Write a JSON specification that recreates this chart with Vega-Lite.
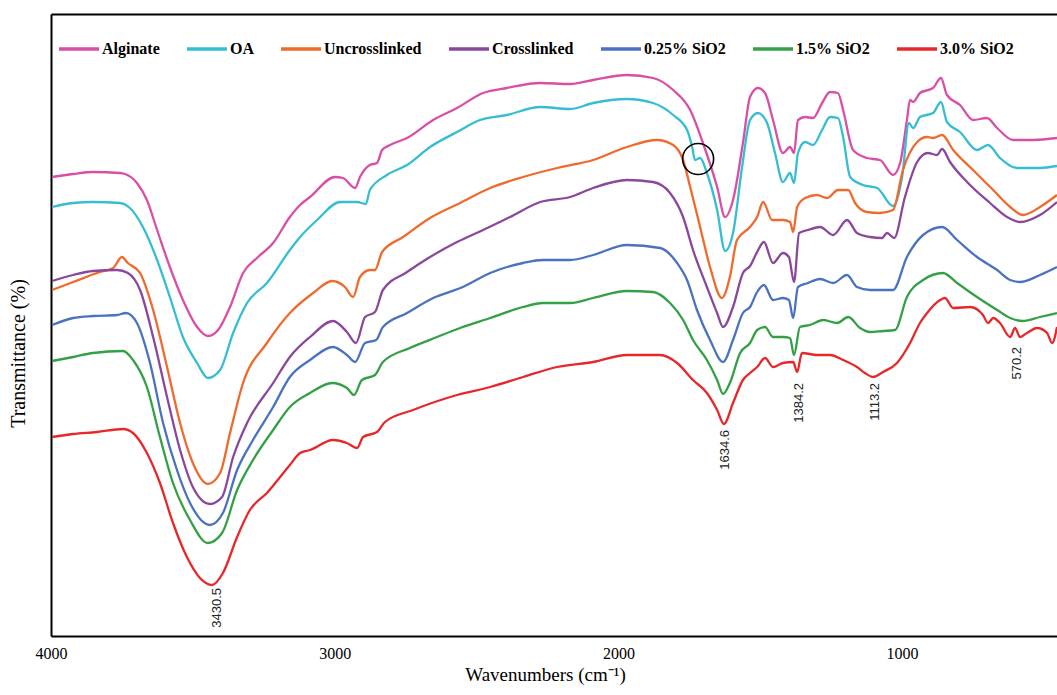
{
"$schema": "https://vega.github.io/schema/vega-lite/v6.json",
"width": 1006, "height": 622,
"padding": {"left": 51, "top": 14, "right": 0, "bottom": 59},
"autosize": {"type": "none"},
"background": "white",
"config": {"view": {"stroke": null}, "font": "Liberation Serif"},
"datasets": {
"spectra": [
{"s":"Alginate","w":3996,"t":459},{"s":"Alginate","w":3922,"t":462},{"s":"Alginate","w":3852,"t":464},{"s":"Alginate","w":3757,"t":463},{"s":"Alginate","w":3739,"t":462},{"s":"Alginate","w":3697,"t":453},{"s":"Alginate","w":3662,"t":436},{"s":"Alginate","w":3626,"t":406},{"s":"Alginate","w":3581,"t":369},{"s":"Alginate","w":3535,"t":336},{"s":"Alginate","w":3485,"t":309},{"s":"Alginate","w":3447,"t":300},{"s":"Alginate","w":3411,"t":306},{"s":"Alginate","w":3369,"t":329},{"s":"Alginate","w":3323,"t":363},{"s":"Alginate","w":3274,"t":378},{"s":"Alginate","w":3217,"t":393},{"s":"Alginate","w":3158,"t":419},{"s":"Alginate","w":3122,"t":431},{"s":"Alginate","w":3087,"t":439},{"s":"Alginate","w":2999,"t":459},{"s":"Alginate","w":2971,"t":458},{"s":"Alginate","w":2928,"t":448},{"s":"Alginate","w":2911,"t":459},{"s":"Alginate","w":2876,"t":471},{"s":"Alginate","w":2851,"t":473},{"s":"Alginate","w":2833,"t":486},{"s":"Alginate","w":2805,"t":491},{"s":"Alginate","w":2745,"t":498},{"s":"Alginate","w":2653,"t":516},{"s":"Alginate","w":2569,"t":528},{"s":"Alginate","w":2477,"t":543},{"s":"Alginate","w":2393,"t":548},{"s":"Alginate","w":2276,"t":553},{"s":"Alginate","w":2170,"t":552},{"s":"Alginate","w":2089,"t":556},{"s":"Alginate","w":1970,"t":561},{"s":"Alginate","w":1878,"t":558},{"s":"Alginate","w":1807,"t":546},{"s":"Alginate","w":1747,"t":526},{"s":"Alginate","w":1702,"t":493},{"s":"Alginate","w":1652,"t":449},{"s":"Alginate","w":1624,"t":419},{"s":"Alginate","w":1596,"t":436},{"s":"Alginate","w":1561,"t":493},{"s":"Alginate","w":1536,"t":539},{"s":"Alginate","w":1508,"t":548},{"s":"Alginate","w":1483,"t":543},{"s":"Alginate","w":1455,"t":516},{"s":"Alginate","w":1420,"t":483},{"s":"Alginate","w":1395,"t":489},{"s":"Alginate","w":1381,"t":483},{"s":"Alginate","w":1367,"t":516},{"s":"Alginate","w":1342,"t":519},{"s":"Alginate","w":1314,"t":518},{"s":"Alginate","w":1282,"t":533},{"s":"Alginate","w":1254,"t":544},{"s":"Alginate","w":1226,"t":543},{"s":"Alginate","w":1208,"t":526},{"s":"Alginate","w":1173,"t":486},{"s":"Alginate","w":1124,"t":478},{"s":"Alginate","w":1078,"t":476},{"s":"Alginate","w":1032,"t":461},{"s":"Alginate","w":1007,"t":473},{"s":"Alginate","w":983,"t":516},{"s":"Alginate","w":972,"t":536},{"s":"Alginate","w":961,"t":534},{"s":"Alginate","w":937,"t":543},{"s":"Alginate","w":891,"t":548},{"s":"Alginate","w":863,"t":558},{"s":"Alginate","w":842,"t":541},{"s":"Alginate","w":796,"t":531},{"s":"Alginate","w":750,"t":516},{"s":"Alginate","w":701,"t":518},{"s":"Alginate","w":665,"t":508},{"s":"Alginate","w":609,"t":496},{"s":"Alginate","w":538,"t":496},{"s":"Alginate","w":454,"t":498},
{"s":"OA","w":3996,"t":429},{"s":"OA","w":3922,"t":433},{"s":"OA","w":3852,"t":434},{"s":"OA","w":3757,"t":433},{"s":"OA","w":3722,"t":428},{"s":"OA","w":3676,"t":409},{"s":"OA","w":3626,"t":376},{"s":"OA","w":3581,"t":339},{"s":"OA","w":3535,"t":299},{"s":"OA","w":3485,"t":273},{"s":"OA","w":3447,"t":258},{"s":"OA","w":3404,"t":266},{"s":"OA","w":3358,"t":303},{"s":"OA","w":3309,"t":333},{"s":"OA","w":3239,"t":353},{"s":"OA","w":3158,"t":386},{"s":"OA","w":3122,"t":399},{"s":"OA","w":3062,"t":416},{"s":"OA","w":2981,"t":434},{"s":"OA","w":2921,"t":434},{"s":"OA","w":2890,"t":432},{"s":"OA","w":2876,"t":446},{"s":"OA","w":2816,"t":461},{"s":"OA","w":2745,"t":471},{"s":"OA","w":2664,"t":489},{"s":"OA","w":2569,"t":504},{"s":"OA","w":2488,"t":516},{"s":"OA","w":2393,"t":521},{"s":"OA","w":2276,"t":529},{"s":"OA","w":2170,"t":527},{"s":"OA","w":2089,"t":533},{"s":"OA","w":1970,"t":537},{"s":"OA","w":1878,"t":533},{"s":"OA","w":1807,"t":521},{"s":"OA","w":1758,"t":506},{"s":"OA","w":1740,"t":489},{"s":"OA","w":1730,"t":476},{"s":"OA","w":1712,"t":478},{"s":"OA","w":1688,"t":463},{"s":"OA","w":1652,"t":426},{"s":"OA","w":1624,"t":385},{"s":"OA","w":1596,"t":403},{"s":"OA","w":1564,"t":469},{"s":"OA","w":1536,"t":516},{"s":"OA","w":1508,"t":523},{"s":"OA","w":1476,"t":513},{"s":"OA","w":1448,"t":483},{"s":"OA","w":1420,"t":454},{"s":"OA","w":1395,"t":463},{"s":"OA","w":1381,"t":453},{"s":"OA","w":1367,"t":483},{"s":"OA","w":1342,"t":494},{"s":"OA","w":1314,"t":491},{"s":"OA","w":1282,"t":506},{"s":"OA","w":1254,"t":519},{"s":"OA","w":1226,"t":518},{"s":"OA","w":1208,"t":499},{"s":"OA","w":1183,"t":459},{"s":"OA","w":1138,"t":451},{"s":"OA","w":1088,"t":448},{"s":"OA","w":1032,"t":430},{"s":"OA","w":1000,"t":459},{"s":"OA","w":976,"t":513},{"s":"OA","w":961,"t":508},{"s":"OA","w":937,"t":519},{"s":"OA","w":891,"t":523},{"s":"OA","w":863,"t":534},{"s":"OA","w":842,"t":514},{"s":"OA","w":796,"t":504},{"s":"OA","w":736,"t":486},{"s":"OA","w":697,"t":491},{"s":"OA","w":655,"t":478},{"s":"OA","w":595,"t":468},{"s":"OA","w":514,"t":468},{"s":"OA","w":454,"t":470},
{"s":"Uncrosslinked","w":3996,"t":346},{"s":"Uncrosslinked","w":3922,"t":354},{"s":"Uncrosslinked","w":3827,"t":364},{"s":"Uncrosslinked","w":3781,"t":368},{"s":"Uncrosslinked","w":3750,"t":379},{"s":"Uncrosslinked","w":3729,"t":373},{"s":"Uncrosslinked","w":3686,"t":363},{"s":"Uncrosslinked","w":3640,"t":326},{"s":"Uncrosslinked","w":3591,"t":269},{"s":"Uncrosslinked","w":3545,"t":213},{"s":"Uncrosslinked","w":3500,"t":173},{"s":"Uncrosslinked","w":3447,"t":152},{"s":"Uncrosslinked","w":3404,"t":163},{"s":"Uncrosslinked","w":3369,"t":203},{"s":"Uncrosslinked","w":3323,"t":253},{"s":"Uncrosslinked","w":3239,"t":293},{"s":"Uncrosslinked","w":3158,"t":323},{"s":"Uncrosslinked","w":3076,"t":343},{"s":"Uncrosslinked","w":3009,"t":355},{"s":"Uncrosslinked","w":2964,"t":349},{"s":"Uncrosslinked","w":2935,"t":339},{"s":"Uncrosslinked","w":2911,"t":359},{"s":"Uncrosslinked","w":2876,"t":366},{"s":"Uncrosslinked","w":2858,"t":366},{"s":"Uncrosslinked","w":2833,"t":384},{"s":"Uncrosslinked","w":2759,"t":399},{"s":"Uncrosslinked","w":2664,"t":418},{"s":"Uncrosslinked","w":2558,"t":433},{"s":"Uncrosslinked","w":2452,"t":448},{"s":"Uncrosslinked","w":2336,"t":459},{"s":"Uncrosslinked","w":2216,"t":468},{"s":"Uncrosslinked","w":2089,"t":476},{"s":"Uncrosslinked","w":1970,"t":489},{"s":"Uncrosslinked","w":1864,"t":496},{"s":"Uncrosslinked","w":1807,"t":491},{"s":"Uncrosslinked","w":1772,"t":476},{"s":"Uncrosslinked","w":1747,"t":449},{"s":"Uncrosslinked","w":1712,"t":409},{"s":"Uncrosslinked","w":1677,"t":369},{"s":"Uncrosslinked","w":1635,"t":338},{"s":"Uncrosslinked","w":1607,"t":359},{"s":"Uncrosslinked","w":1582,"t":396},{"s":"Uncrosslinked","w":1536,"t":409},{"s":"Uncrosslinked","w":1511,"t":419},{"s":"Uncrosslinked","w":1490,"t":434},{"s":"Uncrosslinked","w":1458,"t":416},{"s":"Uncrosslinked","w":1420,"t":416},{"s":"Uncrosslinked","w":1395,"t":414},{"s":"Uncrosslinked","w":1384,"t":404},{"s":"Uncrosslinked","w":1370,"t":429},{"s":"Uncrosslinked","w":1342,"t":438},{"s":"Uncrosslinked","w":1300,"t":441},{"s":"Uncrosslinked","w":1264,"t":438},{"s":"Uncrosslinked","w":1226,"t":446},{"s":"Uncrosslinked","w":1190,"t":446},{"s":"Uncrosslinked","w":1166,"t":433},{"s":"Uncrosslinked","w":1124,"t":424},{"s":"Uncrosslinked","w":1078,"t":423},{"s":"Uncrosslinked","w":1032,"t":426},{"s":"Uncrosslinked","w":997,"t":466},{"s":"Uncrosslinked","w":947,"t":494},{"s":"Uncrosslinked","w":912,"t":499},{"s":"Uncrosslinked","w":891,"t":498},{"s":"Uncrosslinked","w":859,"t":501},{"s":"Uncrosslinked","w":820,"t":486},{"s":"Uncrosslinked","w":750,"t":466},{"s":"Uncrosslinked","w":679,"t":446},{"s":"Uncrosslinked","w":619,"t":429},{"s":"Uncrosslinked","w":574,"t":421},{"s":"Uncrosslinked","w":514,"t":429},{"s":"Uncrosslinked","w":454,"t":441},
{"s":"Crosslinked","w":3996,"t":355},{"s":"Crosslinked","w":3922,"t":361},{"s":"Crosslinked","w":3852,"t":365},{"s":"Crosslinked","w":3767,"t":366},{"s":"Crosslinked","w":3729,"t":363},{"s":"Crosslinked","w":3686,"t":346},{"s":"Crosslinked","w":3640,"t":299},{"s":"Crosslinked","w":3591,"t":239},{"s":"Crosslinked","w":3545,"t":186},{"s":"Crosslinked","w":3500,"t":149},{"s":"Crosslinked","w":3440,"t":132},{"s":"Crosslinked","w":3397,"t":139},{"s":"Crosslinked","w":3358,"t":179},{"s":"Crosslinked","w":3309,"t":213},{"s":"Crosslinked","w":3217,"t":253},{"s":"Crosslinked","w":3158,"t":279},{"s":"Crosslinked","w":3087,"t":299},{"s":"Crosslinked","w":3006,"t":315},{"s":"Crosslinked","w":2957,"t":304},{"s":"Crosslinked","w":2925,"t":293},{"s":"Crosslinked","w":2893,"t":319},{"s":"Crosslinked","w":2858,"t":324},{"s":"Crosslinked","w":2830,"t":346},{"s":"Crosslinked","w":2745,"t":364},{"s":"Crosslinked","w":2664,"t":379},{"s":"Crosslinked","w":2569,"t":394},{"s":"Crosslinked","w":2477,"t":406},{"s":"Crosslinked","w":2382,"t":419},{"s":"Crosslinked","w":2276,"t":434},{"s":"Crosslinked","w":2170,"t":439},{"s":"Crosslinked","w":2089,"t":448},{"s":"Crosslinked","w":1970,"t":456},{"s":"Crosslinked","w":1878,"t":454},{"s":"Crosslinked","w":1818,"t":443},{"s":"Crosslinked","w":1772,"t":419},{"s":"Crosslinked","w":1737,"t":386},{"s":"Crosslinked","w":1688,"t":349},{"s":"Crosslinked","w":1652,"t":323},{"s":"Crosslinked","w":1631,"t":309},{"s":"Crosslinked","w":1596,"t":329},{"s":"Crosslinked","w":1561,"t":363},{"s":"Crosslinked","w":1536,"t":370},{"s":"Crosslinked","w":1511,"t":384},{"s":"Crosslinked","w":1487,"t":394},{"s":"Crosslinked","w":1455,"t":373},{"s":"Crosslinked","w":1420,"t":383},{"s":"Crosslinked","w":1399,"t":379},{"s":"Crosslinked","w":1381,"t":354},{"s":"Crosslinked","w":1363,"t":403},{"s":"Crosslinked","w":1332,"t":406},{"s":"Crosslinked","w":1289,"t":409},{"s":"Crosslinked","w":1243,"t":401},{"s":"Crosslinked","w":1194,"t":416},{"s":"Crosslinked","w":1159,"t":403},{"s":"Crosslinked","w":1113,"t":399},{"s":"Crosslinked","w":1071,"t":398},{"s":"Crosslinked","w":1053,"t":403},{"s":"Crosslinked","w":1028,"t":398},{"s":"Crosslinked","w":990,"t":439},{"s":"Crosslinked","w":947,"t":474},{"s":"Crosslinked","w":909,"t":483},{"s":"Crosslinked","w":877,"t":481},{"s":"Crosslinked","w":859,"t":487},{"s":"Crosslinked","w":831,"t":474},{"s":"Crosslinked","w":771,"t":454},{"s":"Crosslinked","w":690,"t":433},{"s":"Crosslinked","w":630,"t":419},{"s":"Crosslinked","w":584,"t":414},{"s":"Crosslinked","w":514,"t":421},{"s":"Crosslinked","w":454,"t":434},
{"s":"0.25% SiO2","w":3996,"t":311},{"s":"0.25% SiO2","w":3922,"t":318},{"s":"0.25% SiO2","w":3852,"t":320},{"s":"0.25% SiO2","w":3767,"t":321},{"s":"0.25% SiO2","w":3736,"t":323},{"s":"0.25% SiO2","w":3697,"t":313},{"s":"0.25% SiO2","w":3651,"t":273},{"s":"0.25% SiO2","w":3605,"t":213},{"s":"0.25% SiO2","w":3556,"t":166},{"s":"0.25% SiO2","w":3510,"t":133},{"s":"0.25% SiO2","w":3440,"t":111},{"s":"0.25% SiO2","w":3394,"t":123},{"s":"0.25% SiO2","w":3344,"t":166},{"s":"0.25% SiO2","w":3288,"t":196},{"s":"0.25% SiO2","w":3217,"t":229},{"s":"0.25% SiO2","w":3158,"t":259},{"s":"0.25% SiO2","w":3087,"t":276},{"s":"0.25% SiO2","w":3006,"t":289},{"s":"0.25% SiO2","w":2957,"t":281},{"s":"0.25% SiO2","w":2928,"t":274},{"s":"0.25% SiO2","w":2893,"t":293},{"s":"0.25% SiO2","w":2854,"t":296},{"s":"0.25% SiO2","w":2830,"t":309},{"s":"0.25% SiO2","w":2745,"t":323},{"s":"0.25% SiO2","w":2653,"t":338},{"s":"0.25% SiO2","w":2548,"t":349},{"s":"0.25% SiO2","w":2452,"t":363},{"s":"0.25% SiO2","w":2336,"t":373},{"s":"0.25% SiO2","w":2266,"t":376},{"s":"0.25% SiO2","w":2170,"t":376},{"s":"0.25% SiO2","w":2089,"t":381},{"s":"0.25% SiO2","w":1970,"t":391},{"s":"0.25% SiO2","w":1853,"t":388},{"s":"0.25% SiO2","w":1793,"t":373},{"s":"0.25% SiO2","w":1758,"t":356},{"s":"0.25% SiO2","w":1723,"t":326},{"s":"0.25% SiO2","w":1677,"t":296},{"s":"0.25% SiO2","w":1631,"t":274},{"s":"0.25% SiO2","w":1596,"t":296},{"s":"0.25% SiO2","w":1561,"t":323},{"s":"0.25% SiO2","w":1536,"t":329},{"s":"0.25% SiO2","w":1511,"t":344},{"s":"0.25% SiO2","w":1487,"t":351},{"s":"0.25% SiO2","w":1455,"t":336},{"s":"0.25% SiO2","w":1420,"t":338},{"s":"0.25% SiO2","w":1399,"t":336},{"s":"0.25% SiO2","w":1384,"t":318},{"s":"0.25% SiO2","w":1367,"t":349},{"s":"0.25% SiO2","w":1332,"t":353},{"s":"0.25% SiO2","w":1289,"t":357},{"s":"0.25% SiO2","w":1243,"t":353},{"s":"0.25% SiO2","w":1194,"t":361},{"s":"0.25% SiO2","w":1159,"t":349},{"s":"0.25% SiO2","w":1113,"t":346},{"s":"0.25% SiO2","w":1067,"t":346},{"s":"0.25% SiO2","w":1032,"t":346},{"s":"0.25% SiO2","w":983,"t":379},{"s":"0.25% SiO2","w":926,"t":401},{"s":"0.25% SiO2","w":859,"t":409},{"s":"0.25% SiO2","w":806,"t":396},{"s":"0.25% SiO2","w":736,"t":379},{"s":"0.25% SiO2","w":665,"t":366},{"s":"0.25% SiO2","w":619,"t":356},{"s":"0.25% SiO2","w":584,"t":354},{"s":"0.25% SiO2","w":514,"t":361},{"s":"0.25% SiO2","w":454,"t":369},
{"s":"1.5% SiO2","w":3996,"t":275},{"s":"1.5% SiO2","w":3922,"t":279},{"s":"1.5% SiO2","w":3852,"t":283},{"s":"1.5% SiO2","w":3746,"t":285},{"s":"1.5% SiO2","w":3711,"t":276},{"s":"1.5% SiO2","w":3662,"t":249},{"s":"1.5% SiO2","w":3616,"t":199},{"s":"1.5% SiO2","w":3570,"t":153},{"s":"1.5% SiO2","w":3510,"t":116},{"s":"1.5% SiO2","w":3447,"t":93},{"s":"1.5% SiO2","w":3397,"t":103},{"s":"1.5% SiO2","w":3344,"t":146},{"s":"1.5% SiO2","w":3288,"t":176},{"s":"1.5% SiO2","w":3217,"t":206},{"s":"1.5% SiO2","w":3158,"t":229},{"s":"1.5% SiO2","w":3087,"t":243},{"s":"1.5% SiO2","w":3009,"t":253},{"s":"1.5% SiO2","w":2957,"t":248},{"s":"1.5% SiO2","w":2932,"t":241},{"s":"1.5% SiO2","w":2904,"t":256},{"s":"1.5% SiO2","w":2858,"t":261},{"s":"1.5% SiO2","w":2830,"t":274},{"s":"1.5% SiO2","w":2735,"t":288},{"s":"1.5% SiO2","w":2639,"t":299},{"s":"1.5% SiO2","w":2558,"t":308},{"s":"1.5% SiO2","w":2452,"t":318},{"s":"1.5% SiO2","w":2336,"t":329},{"s":"1.5% SiO2","w":2266,"t":333},{"s":"1.5% SiO2","w":2170,"t":333},{"s":"1.5% SiO2","w":2089,"t":338},{"s":"1.5% SiO2","w":1970,"t":345},{"s":"1.5% SiO2","w":1878,"t":344},{"s":"1.5% SiO2","w":1818,"t":333},{"s":"1.5% SiO2","w":1772,"t":316},{"s":"1.5% SiO2","w":1737,"t":296},{"s":"1.5% SiO2","w":1688,"t":276},{"s":"1.5% SiO2","w":1652,"t":256},{"s":"1.5% SiO2","w":1631,"t":242},{"s":"1.5% SiO2","w":1607,"t":253},{"s":"1.5% SiO2","w":1571,"t":283},{"s":"1.5% SiO2","w":1536,"t":293},{"s":"1.5% SiO2","w":1511,"t":306},{"s":"1.5% SiO2","w":1483,"t":309},{"s":"1.5% SiO2","w":1455,"t":299},{"s":"1.5% SiO2","w":1420,"t":299},{"s":"1.5% SiO2","w":1395,"t":298},{"s":"1.5% SiO2","w":1381,"t":281},{"s":"1.5% SiO2","w":1360,"t":309},{"s":"1.5% SiO2","w":1325,"t":311},{"s":"1.5% SiO2","w":1278,"t":316},{"s":"1.5% SiO2","w":1229,"t":313},{"s":"1.5% SiO2","w":1190,"t":319},{"s":"1.5% SiO2","w":1148,"t":308},{"s":"1.5% SiO2","w":1113,"t":304},{"s":"1.5% SiO2","w":1067,"t":305},{"s":"1.5% SiO2","w":1025,"t":306},{"s":"1.5% SiO2","w":983,"t":339},{"s":"1.5% SiO2","w":926,"t":356},{"s":"1.5% SiO2","w":856,"t":363},{"s":"1.5% SiO2","w":806,"t":353},{"s":"1.5% SiO2","w":736,"t":339},{"s":"1.5% SiO2","w":665,"t":326},{"s":"1.5% SiO2","w":619,"t":318},{"s":"1.5% SiO2","w":574,"t":315},{"s":"1.5% SiO2","w":514,"t":319},{"s":"1.5% SiO2","w":454,"t":323},
{"s":"3.0% SiO2","w":3996,"t":199},{"s":"3.0% SiO2","w":3922,"t":202},{"s":"3.0% SiO2","w":3838,"t":204},{"s":"3.0% SiO2","w":3746,"t":207},{"s":"3.0% SiO2","w":3711,"t":203},{"s":"3.0% SiO2","w":3662,"t":183},{"s":"3.0% SiO2","w":3616,"t":153},{"s":"3.0% SiO2","w":3570,"t":113},{"s":"3.0% SiO2","w":3521,"t":79},{"s":"3.0% SiO2","w":3475,"t":58},{"s":"3.0% SiO2","w":3432,"t":51},{"s":"3.0% SiO2","w":3394,"t":63},{"s":"3.0% SiO2","w":3344,"t":99},{"s":"3.0% SiO2","w":3299,"t":126},{"s":"3.0% SiO2","w":3239,"t":143},{"s":"3.0% SiO2","w":3158,"t":171},{"s":"3.0% SiO2","w":3122,"t":183},{"s":"3.0% SiO2","w":3087,"t":186},{"s":"3.0% SiO2","w":3006,"t":196},{"s":"3.0% SiO2","w":2957,"t":193},{"s":"3.0% SiO2","w":2921,"t":188},{"s":"3.0% SiO2","w":2900,"t":199},{"s":"3.0% SiO2","w":2851,"t":204},{"s":"3.0% SiO2","w":2823,"t":214},{"s":"3.0% SiO2","w":2724,"t":226},{"s":"3.0% SiO2","w":2569,"t":241},{"s":"3.0% SiO2","w":2452,"t":249},{"s":"3.0% SiO2","w":2336,"t":259},{"s":"3.0% SiO2","w":2216,"t":269},{"s":"3.0% SiO2","w":2089,"t":274},{"s":"3.0% SiO2","w":1970,"t":281},{"s":"3.0% SiO2","w":1853,"t":281},{"s":"3.0% SiO2","w":1793,"t":273},{"s":"3.0% SiO2","w":1737,"t":256},{"s":"3.0% SiO2","w":1688,"t":243},{"s":"3.0% SiO2","w":1652,"t":226},{"s":"3.0% SiO2","w":1628,"t":212},{"s":"3.0% SiO2","w":1596,"t":233},{"s":"3.0% SiO2","w":1561,"t":256},{"s":"3.0% SiO2","w":1536,"t":263},{"s":"3.0% SiO2","w":1511,"t":269},{"s":"3.0% SiO2","w":1483,"t":278},{"s":"3.0% SiO2","w":1455,"t":269},{"s":"3.0% SiO2","w":1420,"t":273},{"s":"3.0% SiO2","w":1384,"t":274},{"s":"3.0% SiO2","w":1370,"t":264},{"s":"3.0% SiO2","w":1353,"t":283},{"s":"3.0% SiO2","w":1300,"t":281},{"s":"3.0% SiO2","w":1254,"t":281},{"s":"3.0% SiO2","w":1208,"t":276},{"s":"3.0% SiO2","w":1159,"t":269},{"s":"3.0% SiO2","w":1131,"t":263},{"s":"3.0% SiO2","w":1102,"t":259},{"s":"3.0% SiO2","w":1067,"t":264},{"s":"3.0% SiO2","w":1018,"t":273},{"s":"3.0% SiO2","w":972,"t":293},{"s":"3.0% SiO2","w":937,"t":313},{"s":"3.0% SiO2","w":912,"t":323},{"s":"3.0% SiO2","w":866,"t":336},{"s":"3.0% SiO2","w":849,"t":338},{"s":"3.0% SiO2","w":820,"t":328},{"s":"3.0% SiO2","w":760,"t":329},{"s":"3.0% SiO2","w":715,"t":321},{"s":"3.0% SiO2","w":697,"t":313},{"s":"3.0% SiO2","w":679,"t":318},{"s":"3.0% SiO2","w":655,"t":313},{"s":"3.0% SiO2","w":619,"t":299},{"s":"3.0% SiO2","w":602,"t":308},{"s":"3.0% SiO2","w":584,"t":299},{"s":"3.0% SiO2","w":560,"t":303},{"s":"3.0% SiO2","w":524,"t":308},{"s":"3.0% SiO2","w":489,"t":303},{"s":"3.0% SiO2","w":471,"t":293},{"s":"3.0% SiO2","w":454,"t":309}
],
"labels": [
{"w":3415,"t":48,"label":"3430.5"},
{"w":1624,"t":206,"label":"1634.6"},
{"w":1363,"t":253,"label":"1384.2"},
{"w":1095,"t":253,"label":"1113.2"},
{"w":595,"t":289,"label":"570.2"}
],
"circles": [
{"w":1719,"t":477}
]
},
"layer": [
{
"data": {"name": "spectra"},
"mark": {"type": "line", "strokeWidth": 2.3, "clip": true, "interpolate": "monotone"},
"encoding": {
"x": {"field": "w", "type": "quantitative",
"scale": {"domain": [4000, 454], "nice": false, "zero": false},
"axis": {"values": [4000, 3000, 2000, 1000], "format": "d", "title": "Wavenumbers (cm⁻¹)", "grid": false, "ticks": false,
"domainColor": "black", "domainWidth": 2, "labelFont": "Liberation Serif", "labelFontSize": 16, "labelColor": "black",
"labelPadding": 9, "labelFlush": false, "labelOverlap": false,
"titleFont": "Liberation Serif", "titleFontSize": 19, "titleFontWeight": "normal", "titleColor": "black",
"titleX": 494, "titleY": 44, "titleBaseline": "alphabetic", "titleAlign": "center"}},
"y": {"field": "t", "type": "quantitative",
"scale": {"domain": [0, 622], "nice": false, "zero": false},
"axis": {"title": "Transmittance (%)", "labels": false, "ticks": false, "grid": false,
"domainColor": "black", "domainWidth": 2,
"titleFont": "Liberation Serif", "titleFontSize": 20, "titleFontWeight": "normal", "titleColor": "black",
"titleX": -33, "titleY": 339, "titleAngle": 270, "titleAlign": "center", "titleBaseline": "middle"}},
"color": {"field": "s", "type": "nominal",
"scale": {"domain": ["Alginate", "OA", "Uncrosslinked", "Crosslinked", "0.25% SiO2", "1.5% SiO2", "3.0% SiO2"],
"range": ["#d94fa6", "#35bdd3", "#ef6a2c", "#8b479b", "#4a72c0", "#34a046", "#e6282a"]},
"legend": {"orient": "none", "legendX": 6, "legendY": 13, "direction": "horizontal", "columns": 7, "title": null,
"symbolType": "stroke", "symbolSize": 1600, "symbolStrokeWidth": 3.5,
"labelFont": "Liberation Serif", "labelFontSize": 16, "labelFontWeight": "bold", "labelColor": "black",
"labelOffset": 1, "columnPadding": 20, "labelLimit": 0}}
}
},
{
"data": {"name": "labels"},
"mark": {"type": "text", "angle": 270, "align": "right", "baseline": "middle", "font": "Liberation Sans", "fontSize": 13, "color": "#222222"},
"encoding": {
"x": {"field": "w", "type": "quantitative",
"axis": {"orient": "top", "labels": false, "ticks": false, "grid": false, "title": null, "domainColor": "black", "domainWidth": 2}},
"y": {"field": "t", "type": "quantitative"},
"text": {"field": "label"}
}
},
{
"data": {"name": "circles"},
"mark": {"type": "point", "shape": "circle", "size": 960, "filled": false, "stroke": "black", "strokeWidth": 1.6, "opacity": 1},
"encoding": {
"x": {"field": "w", "type": "quantitative", "axis": null},
"y": {"field": "t", "type": "quantitative"}
}
}
],
"resolve": {"axis": {"x": "independent"}}
}
